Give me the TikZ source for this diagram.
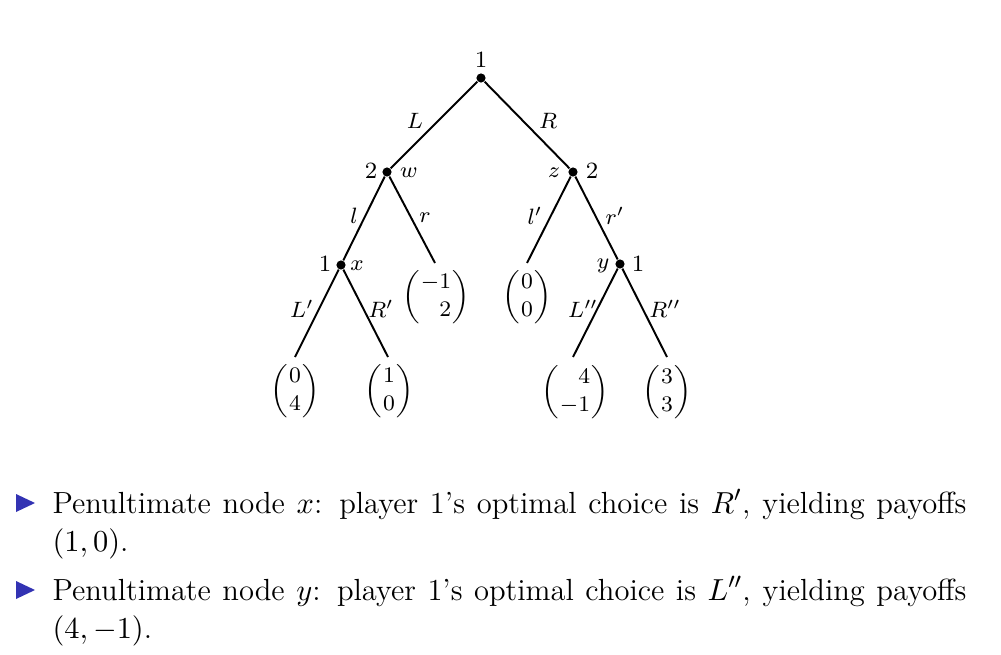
\documentclass[tikz,border=0pt]{standalone}
\usepackage{amsmath}
\definecolor{struct}{RGB}{51,51,179}
\tikzset{
  dot/.style={circle,fill=black,inner sep=0pt,minimum size=3.3pt},
  edge/.style={line width=0.7pt},
  lab/.style={font=\fontsize{8.4}{10}\selectfont,inner sep=0pt},
  pay/.style={font=\fontsize{8.4}{10}\selectfont,inner sep=0pt},
  bullettext/.style={anchor=base west,inner sep=0pt,font=\fontsize{11}{13.6}\selectfont},
}
\newcommand{\pv}[2]{$\left(\begin{array}{@{\hspace{0.5pt}}r@{\hspace{0.5pt}}}#1\\#2\end{array}\right)$}
\begin{document}
\begin{tikzpicture}[x=0.36pt,y=-0.36pt]
\path[use as bounding box] (0,0) rectangle (1001,654);
% tree nodes
\node[dot] (root) at (481,78) {};
\node[dot] (w) at (387,172) {};
\node[dot] (z) at (573,172) {};
\node[dot] (x) at (341,265) {};
\node[dot] (y) at (620,264) {};
\coordinate (er) at (435,263);
\coordinate (el) at (527,263);
\coordinate (eLp) at (295,357);
\coordinate (eRp) at (388,357);
\coordinate (eLpp) at (573,357);
\coordinate (eRpp) at (667,357);
% edges
\draw[edge] (root) -- (w);
\draw[edge] (root) -- (z);
\draw[edge] (w) -- (x);
\draw[edge] (w) -- (er);
\draw[edge] (z) -- (el);
\draw[edge] (z) -- (y);
\draw[edge] (x) -- (eLp);
\draw[edge] (x) -- (eRp);
\draw[edge] (y) -- (eLpp);
\draw[edge] (y) -- (eRpp);
% player labels
\node[lab] (p0) at (481,60) {1};
\node[lab] (p1) at (371,171) {2};
\node[lab] (nw) at (409,173) {$w$};
\node[lab] (nz) at (554,173) {$z$};
\node[lab] (p2) at (592,171) {2};
\node[lab] (p3) at (325,264) {1};
\node[lab] (nx) at (357,266) {$x$};
\node[lab] (ny) at (603,266) {$y$};
\node[lab] (p4) at (638,264) {1};
% action labels
\node[lab] (aL) at (415,121) {$L$};
\node[lab] (aR) at (548,121) {$R$};
\node[lab] (al) at (354,216) {$l$};
\node[lab] (ar) at (425,218) {$r$};
\node[lab] (alp) at (535,216) {$l'$};
\node[lab] (arp) at (615,216) {$r'$};
\node[lab] (aLp) at (302,309) {$L'$};
\node[lab] (aRp) at (381,309) {$R'$};
\node[lab] (aLpp) at (583,309) {$L''$};
\node[lab] (aRpp) at (665,309) {$R''$};
% payoffs
\node[pay] (v1) at (436,297) {\pv{-1}{2}};
\node[pay] (v2) at (527,297) {\pv{0}{0}};
\node[pay] (v3) at (295,391) {\pv{0}{4}};
\node[pay] (v4) at (389,391) {\pv{1}{0}};
\node[pay] (v5) at (575,392) {\pv{4}{-1}};
\node[pay] (v6) at (667,392) {\pv{3}{3}};
% bullets
\fill[struct] (16,494) -- (35,503) -- (16,512) -- cycle;
\fill[struct] (16,581) -- (35,590) -- (16,599) -- cycle;
\node[bullettext] (b1a) at (52,513) {\makebox[329pt][s]{Penultimate node $x$: player 1's optimal choice is $R'$, yielding payoffs}};
\node[bullettext] (b1b) at (52,551) {$(1,0)$.};
\node[bullettext] (b2a) at (52,600) {\makebox[329pt][s]{Penultimate node $y$: player 1's optimal choice is $L''$, yielding payoffs}};
\node[bullettext] (b2b) at (52,638) {$(4,-1)$.};
\end{tikzpicture}
\end{document}
